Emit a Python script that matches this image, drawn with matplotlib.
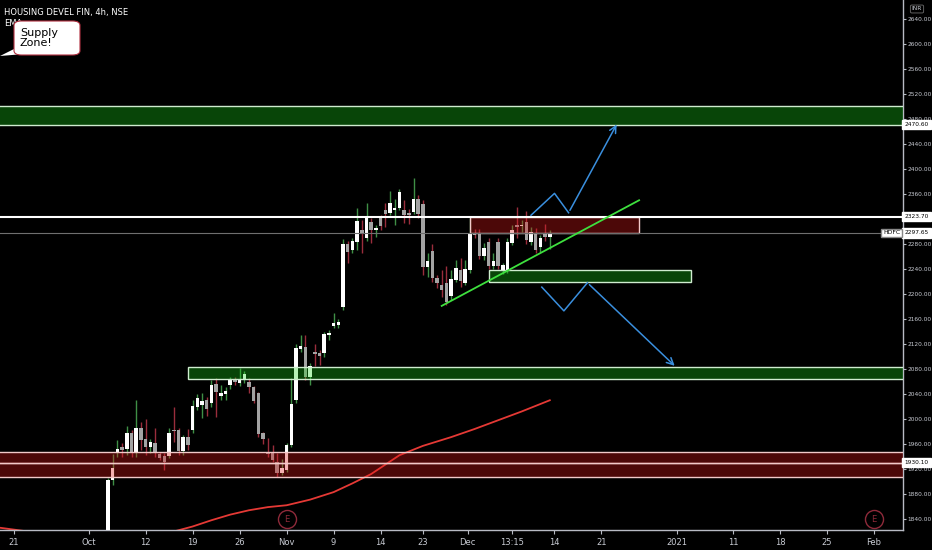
import numpy as np
import matplotlib
matplotlib.use('Agg')
import matplotlib.pyplot as plt
from matplotlib.patches import Rectangle, FancyBboxPatch, Polygon

plt.rcParams['font.family'] = ['DejaVu Sans']

# 4h candles, bar index 20 .. 114 (index 0 = 21 Sep 09:15)
first_bar = 20
opens = [1800, 1902, 1946, 1955, 1952, 1978, 1946, 1986, 1968, 1955,
         1961, 1944, 1941, 1941, 1983, 1982, 1949, 1971, 1982, 2019,
         2022, 2030, 2026, 2056, 2037, 2040, 2054, 2064, 2058, 2062,
         2059, 2051, 2042, 1977, 1947, 1946, 1931, 1914, 1918, 1958,
         2030, 2112, 2115, 2067, 2107, 2106, 2106, 2134, 2149, 2150,
         2179, 2280, 2270, 2283, 2302, 2290, 2315, 2302, 2322, 2334,
         2330, 2334, 2338, 2334, 2330, 2331, 2352, 2344, 2243, 2269,
         2226, 2214, 2218, 2197, 2222, 2238, 2218, 2238, 2298, 2298,
         2261, 2283, 2245, 2283, 2237, 2238, 2282, 2310, 2309, 2316,
         2283, 2298, 2275, 2298, 2291]
highs = [1905, 1944, 1966, 1962, 1989, 1982, 2030, 1995, 2000, 1968,
         1986, 1947, 1945, 1985, 2019, 1985, 1975, 1984, 2030, 2040,
         2042, 2035, 2062, 2065, 2055, 2052, 2068, 2068, 2082, 2077,
         2066, 2053, 2044, 1980, 1970, 1958, 1945, 1936, 1962, 2065,
         2120, 2135, 2134, 2090, 2120, 2110, 2140, 2142, 2170, 2160,
         2288, 2285, 2290, 2337, 2318, 2346, 2321, 2310, 2326, 2346,
         2365, 2352, 2368, 2350, 2336, 2386, 2358, 2350, 2266, 2280,
         2230, 2238, 2245, 2238, 2254, 2258, 2254, 2322, 2304, 2304,
         2282, 2290, 2265, 2290, 2250, 2290, 2310, 2339, 2318, 2333,
         2307, 2305, 2295, 2312, 2302]
lows = [1795, 1894, 1939, 1939, 1942, 1940, 1940, 1950, 1942, 1946,
        1940, 1934, 1918, 1938, 1963, 1943, 1942, 1950, 1978, 2015,
        2002, 2005, 2020, 2003, 2030, 2030, 2048, 2055, 2053, 2058,
        2042, 2025, 1972, 1960, 1940, 1931, 1908, 1910, 1915, 1955,
        2025, 2108, 2062, 2054, 2085, 2086, 2100, 2126, 2146, 2146,
        2174, 2250, 2265, 2270, 2265, 2285, 2282, 2292, 2302, 2308,
        2326, 2310, 2334, 2313, 2312, 2328, 2322, 2230, 2228, 2220,
        2210, 2196, 2182, 2190, 2220, 2212, 2214, 2234, 2290, 2256,
        2255, 2240, 2240, 2240, 2232, 2233, 2278, 2290, 2300, 2280,
        2278, 2266, 2268, 2285, 2272]
closes = [1902, 1922, 1952, 1950, 1978, 1947, 1986, 1966, 1955, 1963,
          1946, 1938, 1931, 1978, 1981, 1949, 1971, 1958, 2021, 2034,
          2029, 2016, 2054, 2043, 2042, 2045, 2062, 2059, 2062, 2072,
          2051, 2029, 1976, 1968, 1944, 1934, 1914, 1922, 1958, 2024,
          2114, 2117, 2067, 2085, 2104, 2101, 2136, 2138, 2154, 2155,
          2280, 2267, 2285, 2317, 2298, 2325, 2302, 2306, 2309, 2328,
          2346, 2338, 2363, 2326, 2327, 2352, 2328, 2243, 2253, 2226,
          2218, 2206, 2187, 2224, 2242, 2221, 2240, 2298, 2294, 2261,
          2274, 2245, 2253, 2245, 2246, 2283, 2302, 2308, 2310, 2286,
          2299, 2270, 2290, 2291, 2297.65]

# EMA line
ema_idx = [-3, 0, 5, 12, 20, 28, 32, 38, 42, 46, 50, 54, 58, 63, 68, 72, 76, 79, 82,
           87, 93, 98, 103, 108, 114]
ema_val = [1826, 1823, 1818, 1812, 1808, 1810, 1816, 1828, 1838, 1847, 1854, 1859, 1862,
           1871, 1883, 1897, 1912, 1927, 1942, 1957, 1971, 1984, 1998, 2012, 2030]

# zones (start index, end index, low, high)
green_zones = [(-5, 195, 2470.6, 2501), (101, 144, 2219, 2238), (37, 195, 2064, 2083)]
red_zones = [(-5, 195, 1907, 1930.1), (-5, 195, 1930.1, 1947), (97, 133, 2297.65, 2323.7)]
white_level = 2323.7
last_price = 2297.65
trend_x = [91, 133]
trend_y = [2181, 2350]
up_path_x = [110, 115, 118, 128.5]
up_path_y = [2326, 2361, 2330, 2475]
down_path_x = [112.3, 117, 122, 141]
down_path_y = [2211, 2173, 2218, 2082]
earnings_idx = [58, 183]

tick_pos = [0, 16, 28, 38, 48, 58, 68, 78, 87, 96.5, 106, 115, 125, 141, 153, 163, 173, 183]
tick_lab = ['21', 'Oct', '12', '19', '26', 'Nov', '9', '14', '23', 'Dec', '13:15',
            '14', '21', '2021', '11', '18', '25', 'Feb']
price_ticks = np.arange(1840, 2641, 40)
hidden_ticks = [2320]   # covered by the 2323.70 tag

W, H = 932, 550
fig = plt.figure(figsize=(W / 100, H / 100), dpi=100, facecolor='black')
ax = fig.add_axes([0, 20 / H, 903 / W, 530 / H])
ax.set_facecolor('black')
ax.set_xlim(-2.98, 189.15)
ax.set_ylim(1822.4, 2670.4)

o = np.array(opens, float)
h = np.array(highs, float)
l = np.array(lows, float)
c = np.array(closes, float)
x = np.arange(first_bar, first_bar + len(o))
up = c >= o
wick_col = np.where(up, '#3f8f46', '#9a2d3c')
body_col = np.where(up, '#ffffff', '#a3a3a3')
ax.vlines(x, l, h, colors=wick_col, lw=1, zorder=2)
body_h = np.maximum(np.abs(c - o), 2.0)
ax.bar(x, body_h, bottom=np.minimum(o, c), width=0.74, color=body_col, lw=0, zorder=3)

ax.plot(ema_idx, ema_val, color='#e53935', lw=1.3, zorder=2)

for x0, x1, lo, hi in green_zones:
    ax.add_patch(Rectangle((x0, lo), x1 - x0, hi - lo, facecolor=(0.1, 0.85, 0.1), alpha=0.32,
                           edgecolor='none', zorder=4))
    ax.add_patch(Rectangle((x0, lo), x1 - x0, hi - lo, facecolor='none',
                           edgecolor='#cfeccf', lw=1, zorder=4))
for x0, x1, lo, hi in red_zones:
    ax.add_patch(Rectangle((x0, lo), x1 - x0, hi - lo, facecolor=(0.88, 0.1, 0.1), alpha=0.34,
                           edgecolor='none', zorder=4))
    ax.add_patch(Rectangle((x0, lo), x1 - x0, hi - lo, facecolor='none',
                           edgecolor='#f2c9c9', lw=1, zorder=4))

ax.axhline(white_level, color='white', lw=1.5, zorder=5)
ax.axhline(last_price, color='#6f6f6f', lw=0.8, zorder=5)

ax.plot(trend_x, trend_y, color='#3ee03e', lw=1.3, zorder=6)
ax.plot(up_path_x[:-1], up_path_y[:-1], color='#3a8fde', lw=1.1, zorder=6)
ax.annotate('', xy=(up_path_x[-1], up_path_y[-1]), xytext=(up_path_x[-2], up_path_y[-2]),
            arrowprops=dict(arrowstyle='->', color='#3a8fde', lw=1.1, mutation_scale=12), zorder=6)
ax.plot(down_path_x[:-1], down_path_y[:-1], color='#3a8fde', lw=1.1, zorder=6)
ax.annotate('', xy=(down_path_x[-1], down_path_y[-1]), xytext=(down_path_x[-2], down_path_y[-2]),
            arrowprops=dict(arrowstyle='->', color='#3a8fde', lw=1.1, mutation_scale=12), zorder=6)

# earnings markers
etr = ax.get_xaxis_transform()
for e in earnings_idx:
    ax.plot(e, 0.02, marker='o', ms=13, mfc='none', mec='#8e2a3a', mew=1, transform=etr,
            clip_on=False, zorder=6)
    ax.text(e, 0.02, 'E', color='#8e2a3a', fontsize=6, ha='center', va='center', transform=etr,
            zorder=6)

# axes styling
for s in ['left', 'top']:
    ax.spines[s].set_visible(False)
for s in ['right', 'bottom']:
    ax.spines[s].set_color('#b8bbc4')
    ax.spines[s].set_linewidth(1)
ax.yaxis.tick_right()
ax.set_yticks(price_ticks)
ax.set_yticklabels(['' if p in hidden_ticks else '%.2f' % p for p in price_ticks])
ax.set_xticks(tick_pos)
ax.set_xticklabels(tick_lab)
ax.tick_params(axis='x', colors='#b8bbc4', labelcolor='#c8cbd3', labelsize=6, length=3,
               width=0.8, pad=3)
ax.tick_params(axis='y', colors='#b8bbc4', labelcolor='#c8cbd3', labelsize=4.2, length=2,
               width=0.8, pad=1)

# price tags on the right axis
ytr = ax.get_yaxis_transform()
for p in [2470.6, 2323.7, 1930.1, last_price]:
    ax.text(1.0015, p, '%.2f' % p, transform=ytr, fontsize=4.2, color='black', va='center', ha='left',
            bbox=dict(boxstyle='square,pad=0.35', fc='white', ec='white'), zorder=10, clip_on=False)
ax.text(0.997, last_price, 'HDFC', transform=ytr, fontsize=4.4, color='black', va='center', ha='right',
        bbox=dict(boxstyle='square,pad=0.3', fc='white', ec='#888888'), zorder=10)
fig.text(917 / W, 1 - 9 / H, 'INR', fontsize=4.2, color='#c8cbd3', ha='center', va='center',
         bbox=dict(boxstyle='round,pad=0.25', fc='black', ec='#6f6f6f', lw=0.6))

# title and callout
fig.text(4 / W, 1 - 12 / H, 'HOUSING DEVEL FIN, 4h, NSE', fontsize=6, color='white', va='center')
fig.text(4 / W, 1 - 24 / H, 'EMA', fontsize=6, color='white', va='center')
tail = Polygon([(0 / W, 1 - 56 / H), (20 / W, 1 - 46 / H), (24 / W, 1 - 54 / H)],
               closed=True, transform=fig.transFigure, fc='white', ec='none', zorder=11)
fig.patches.append(tail)
box = FancyBboxPatch((14 / W, 1 - 55 / H), 66 / W, 34 / H,
                     boxstyle='round,pad=0,rounding_size=0.008', transform=fig.transFigure,
                     fc='white', ec='#b03040', lw=0.8, zorder=12)
fig.patches.append(box)
fig.text(20 / W, 1 - 38 / H, 'Supply\nZone!', fontsize=8, color='black', va='center', ha='left',
         linespacing=1.0, zorder=13)

fig.savefig('out.png', dpi=100, facecolor='black')
